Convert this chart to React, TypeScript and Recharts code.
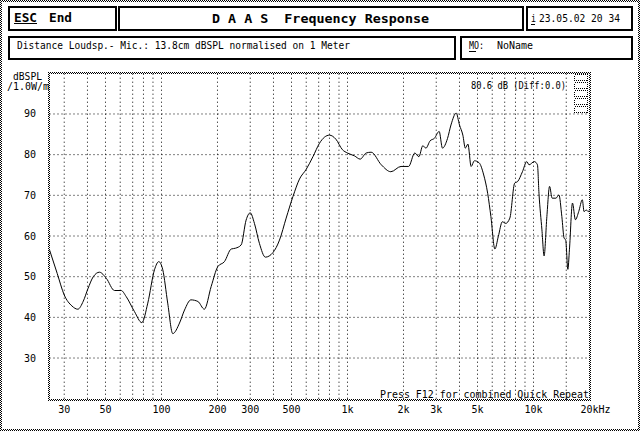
import React from "react";
import { LineChart, Line, XAxis, YAxis, ReferenceLine } from "recharts";

const freqHz = [
  25, 27.5, 30, 33, 35.5, 38, 40.2, 43, 46.4, 50.5, 55.9, 60.7, 64.6, 71.6, 78.4, 84.4, 91.7, 96.7, 101.6,
  108, 115, 125, 133, 144, 157, 170, 185, 201, 218, 237, 250, 268, 285, 300, 316, 336, 362,
  397, 431, 468, 509, 552, 600, 652, 707, 752, 800, 866, 940, 1000, 1090, 1170, 1260, 1340,
  1520, 1710, 1940, 2130, 2300, 2420, 2540, 2640, 2780, 2930, 3110, 3240, 3450, 3600, 3840,
  4000, 4170, 4300, 4440, 4620, 4810, 5100, 5400, 5670, 5900, 6200, 6470, 6800, 7090, 7460,
  7920, 8220, 8720, 9200, 9460, 10100, 10500, 10700, 11100, 11400, 11800, 12200, 12600,
  13200, 13700, 14200, 14600, 14900, 15300, 15600, 16200, 16800, 17500, 18300, 18700, 19200,
  19700, 20000,
];
const levelDb = [
  56.6, 50.8, 45.5, 42.8, 42.0, 44.0, 47.0, 50.0, 51.1, 49.6, 46.6, 46.6, 45.1, 41.4, 38.7, 43.5, 51.7, 53.7, 51.7,
  43.5, 36.0, 38.6, 41.8, 44.3, 43.9, 42.0, 47.6, 52.5, 53.7, 56.8, 57.0, 57.8, 63.9, 65.7, 63.1, 58.2, 54.8,
  55.9, 59.0, 64.4, 69.7, 74.0, 76.4, 79.5, 82.8, 84.3, 84.8, 83.8, 81.2, 80.4, 79.7, 78.9, 80.4, 80.6,
  77.5, 75.8, 77.1, 77.1, 80.4, 79.5, 82.2, 81.6, 83.4, 84.0, 85.7, 81.6, 84.0, 87.3, 90.2,
  87.3, 84.8, 81.6, 82.6, 77.1, 78.5, 78.0, 75.0, 70.5, 64.8, 56.8, 59.9, 63.5, 63.1, 64.4,
  73.0, 73.4, 75.8, 78.3, 77.5, 78.3, 77.5, 70.5, 61.5, 55.1, 64.8, 72.2, 69.3,
  69.3, 70.1, 64.8, 59.5, 59.0, 51.8, 56.6, 68.1, 64.0, 66.0, 68.9, 66.0, 66.4,
  66.0, 66.4,
];

const xTickValues = [30, 50, 100, 200, 300, 500, 1000, 2000, 3000, 5000, 10000, 20000];
const xTickLabels = ["30", "50", "100", "200", "300", "500", "1k", "2k", "3k", "5k", "10k", "20kHz"];
const yTickValues = [30, 40, 50, 60, 70, 80, 90];
const xGridValues = [
  30, 40, 50, 60, 70, 80, 90, 100, 200, 300, 400, 500, 600, 700, 800, 900,
  1000, 2000, 3000, 4000, 5000, 6000, 7000, 8000, 9000, 10000, 15000,
];

const FONT = '"DejaVu Sans Mono", "Liberation Mono", monospace';
const data = freqHz.map((f, i) => ({ f, db: levelDb[i] }));

function XTick({ x, payload }: any) {
  const i = xTickValues.indexOf(payload.value);
  const label = i >= 0 ? xTickLabels[i] : String(payload.value);
  const last = payload.value === 20000;
  return (
    <text
      x={last ? x - 9 : x}
      y={413}
      textAnchor={last ? "start" : "middle"}
      fontFamily={FONT}
      fontSize={10}
      fill="#000"
    >
      {label}
    </text>
  );
}

function YTick({ y, payload }: any) {
  return (
    <text x={36} y={y + 3.5} textAnchor="end" fontFamily={FONT} fontSize={10} fill="#000">
      {payload.value}
    </text>
  );
}

function Box({ x1, y1, x2, y2 }: { x1: number; y1: number; x2: number; y2: number }) {
  return (
    <rect x={x1 + 1} y={y1 + 1} width={x2 - x1 - 2} height={y2 - y1 - 2} fill="none" stroke="#000" strokeWidth={2} />
  );
}

function T({ x, y, len, size = 10, bold = false, anchor = "start", children }: any) {
  return (
    <text
      x={x}
      y={y}
      textAnchor={anchor}
      textLength={len}
      lengthAdjust="spacingAndGlyphs"
      fontFamily={FONT}
      fontSize={size}
      fontWeight={bold ? "bold" : "normal"}
      fill="#000"
      style={{ whiteSpace: "pre" }}
    >
      {children}
    </text>
  );
}

export default function App() {
  return (
    <div style={{ position: "absolute", left: 0, top: 0, width: 640, height: 431, background: "#fff" }}>
      <LineChart width={640} height={431} data={data} margin={{ top: 73.3, right: 50.5, bottom: 0, left: 0 }}>
        <XAxis
          dataKey="f"
          type="number"
          scale="log"
          domain={[25, 20000]}
          allowDataOverflow
          ticks={xTickValues}
          interval={0}
          tick={<XTick />}
          axisLine={false}
          tickLine={false}
          height={32.3}
        />
        <YAxis
          type="number"
          domain={[20, 100]}
          allowDataOverflow
          ticks={yTickValues}
          interval={0}
          tick={<YTick />}
          axisLine={false}
          tickLine={false}
          width={49.5}
        />
        {yTickValues.map((v) => (
          <ReferenceLine key={"h" + v} y={v} stroke="#000" strokeDasharray="1 3" />
        ))}
        {xGridValues.map((v) => (
          <ReferenceLine key={"v" + v} x={v} stroke="#000" strokeDasharray="1 3" />
        ))}
        <Line
          dataKey="db"
          type="monotoneX"
          stroke="#000"
          strokeWidth={1}
          dot={false}
          isAnimationActive={false}
        />
      </LineChart>

      <svg width={640} height={431} style={{ position: "absolute", left: 0, top: 0, pointerEvents: "none" }}>
        <defs>
          <pattern id="dith" width={2} height={2} patternUnits="userSpaceOnUse">
            <rect x={0} y={0} width={1} height={1} fill="#000" />
            <rect x={1} y={1} width={1} height={1} fill="#000" />
          </pattern>
        </defs>
        <g shapeRendering="crispEdges">
          {/* outer frame */}
          <rect x={0} y={0} width={640} height={2} fill="url(#dith)" />
          <rect x={0} y={429} width={640} height={2} fill="url(#dith)" />
          <rect x={0} y={0} width={2} height={431} fill="url(#dith)" />
          <rect x={638} y={0} width={2} height={431} fill="url(#dith)" />
          {/* plot frame */}
          <rect x={48} y={72} width={543} height={2} fill="url(#dith)" />
          <rect x={48} y={399} width={543} height={2} fill="url(#dith)" />
          <rect x={48} y={72} width={2} height={329} fill="url(#dith)" />
          <rect x={589} y={72} width={2} height={329} fill="url(#dith)" />
          {/* header boxes */}
          <Box x1={8} y1={6} x2={117} y2={31} />
          <Box x1={118} y1={6} x2={524} y2={31} />
          <Box x1={526} y1={6} x2={633} y2={31} />
          <Box x1={8} y1={36} x2={456} y2={60} />
          <Box x1={460} y1={36} x2={633} y2={60} />
          {/* little markers top right */}
          {[74, 82, 90, 98, 106].map((y) => (
            <rect key={y} x={574.5} y={y + 0.5} width={13} height={6} fill="none" stroke="#000" strokeDasharray="1 1" />
          ))}
          <rect x={14} y={23} width={23} height={1} fill="#000" />
          <rect x={531} y={24} width={4} height={1} fill="#000" />
          <rect x={469} y={51} width={7} height={1} fill="#000" />
        </g>
        <T x={14} y={22} len={23} size={12} bold>ESC</T>
        <T x={49} y={22} len={23} size={12} bold>End</T>
        <T x={212} y={23} len={217} size={12} bold>{"D A A S  Frequency Response"}</T>
        <T x={531} y={22} len={5}>i</T>
        <T x={539} y={22} len={81}>23.05.02 20 34</T>
        <T x={17} y={49} len={333}>Distance Loudsp.- Mic.: 13.8cm dBSPL normalised on 1 Meter</T>
        <T x={469} y={49} len={15}>MO:</T>
        <T x={497} y={49} len={36}>NoName</T>
        <T x={13} y={80} len={29}>dBSPL</T>
        <T x={7} y={89.5} len={42}>/1.0W/m</T>
        <T x={471} y={88.5} len={95}>80.6 dB (Diff:0.0)</T>
        <T x={380} y={398} len={209}>Press F12 for combined Quick Repeat</T>
      </svg>
    </div>
  );
}
